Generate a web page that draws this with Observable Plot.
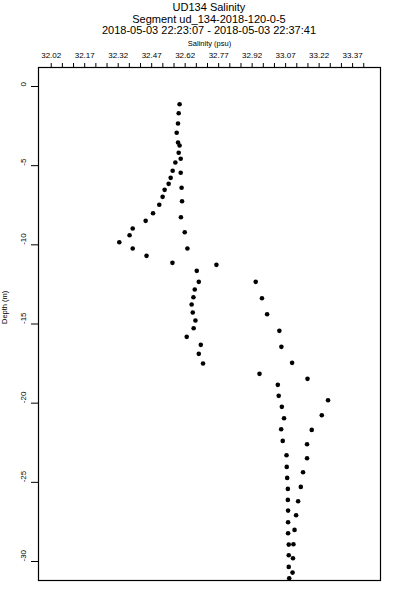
<!DOCTYPE html>
<html><head><meta charset="utf-8">
<script src="https://cdn.jsdelivr.net/npm/d3@7"></script>
<script src="https://cdn.jsdelivr.net/npm/@observablehq/plot@0.6"></script>
<style>
body{margin:0;background:#fff;font-family:"Liberation Sans",Arial,sans-serif;}
#title{width:342px;margin-left:38px;text-align:center;font-size:11px;line-height:11.5px;padding-top:2px;height:34px;color:#000;white-space:nowrap;}
#chart svg{display:block;}
</style></head><body>
<div id="title"><div>UD134 Salinity</div><div>Segment ud_134-2018-120-0-5</div><div>2018-05-03 22:23:07 - 2018-05-03 22:37:41</div></div>
<div id="chart"></div>
<script>
const depth = [-1.118,-1.687,-2.337,-2.925,-3.538,-3.727,-4.188,-4.567,-4.801,-5.325,-5.452,-5.768,-6.147,-6.399,-6.526,-6.968,-7.246,-7.473,-8.004,-8.257,-8.484,-8.970,-9.204,-9.394,-9.836,-10.234,-10.234,-10.695,-11.137,-11.263,-11.642,-12.337,-12.337,-12.824,-13.310,-13.373,-13.771,-14.277,-14.384,-14.782,-15.269,-15.433,-15.812,-16.317,-16.444,-16.886,-17.454,-17.498,-18.149,-18.465,-18.844,-19.539,-19.817,-20.234,-20.764,-20.954,-21.649,-21.687,-22.382,-22.596,-23.291,-23.481,-24.024,-24.365,-24.719,-25.287,-25.414,-26.109,-26.197,-26.785,-27.082,-27.524,-28.004,-28.219,-28.914,-28.932,-29.608,-29.798,-30.341,-30.701,-31.061];
const salinity = [32.595,32.591,32.588,32.582,32.588,32.595,32.591,32.600,32.576,32.564,32.600,32.555,32.546,32.604,32.528,32.519,32.606,32.504,32.476,32.601,32.443,32.385,32.618,32.371,32.325,32.385,32.630,32.447,32.563,32.760,32.672,32.681,32.936,32.663,32.657,32.964,32.649,32.654,32.987,32.666,32.658,33.042,32.627,32.690,33.051,32.681,33.099,32.700,32.953,33.168,33.035,33.039,33.260,33.053,33.232,33.063,33.050,33.187,33.057,33.166,33.074,33.166,33.075,33.148,33.077,33.138,33.080,33.080,33.126,33.081,33.117,33.081,33.110,33.081,33.105,33.084,33.084,33.103,33.084,33.101,33.086];
const xTicks = [32.02,32.07,32.12,32.17,32.22,32.27,32.32,32.37,32.42,32.47,32.52,32.57,32.62,32.67,32.72,32.77,32.82,32.87,32.92,32.97,33.02,33.07,33.12,33.17,33.22,33.27,33.32,33.37,33.42];
const xTickLabels = ["32.02","32.17","32.32","32.47","32.62","32.77","32.92","33.07","33.22","33.37"];
const yTicks = [0,-5,-10,-15,-20,-25,-30];
const yTickLabels = ["0","-5","-10","-15","-20","-25","-30"];
const xLabel = "Salinity (psu)";
const yLabel = "Depth (m)";

const data = depth.map((d, i) => ({d, s: salinity[i]}));
const yLab = yTicks.map((v, i) => ({v, t: yTickLabels[i]}));

const chart = Plot.plot({
  width: 400,
  height: 564,
  marginTop: 31,
  marginBottom: 20,
  marginLeft: 38,
  marginRight: 20,
  style: {fontFamily: "'Liberation Sans', Arial, sans-serif", fontSize: "8px", color: "#000", background: "#fff"},
  x: {domain: [31.963, 33.495]},
  y: {domain: [-31.2, 1.2]},
  marks: [
    Plot.axisX({anchor: "top", ticks: xTicks, tickSize: 5, tickPadding: 5, label: null,
      tickFormat: d => { const s = d.toFixed(2); return xTickLabels.includes(s) ? s : ""; }}),
    Plot.axisY({anchor: "left", ticks: yTicks, tickSize: 7, label: null, tickFormat: () => ""}),
    Plot.text(yLab, {y: "v", text: "t", frameAnchor: "left", dx: -15, rotate: -90, fontSize: 8, fill: "black"}),
    Plot.text([xLabel], {text: d => d, frameAnchor: "top", dy: -27, fontSize: 7.5, fill: "black"}),
    Plot.text([yLabel], {text: d => d, frameAnchor: "left", dx: -34, rotate: -90, fontSize: 7.5, fill: "black"}),
    Plot.frame({stroke: "black", strokeWidth: 1.2}),
    Plot.dot(data, {x: "s", y: "d", r: 2.3, fill: "black", stroke: "none"})
  ]
});
document.getElementById("chart").appendChild(chart);
</script>
</body></html>
